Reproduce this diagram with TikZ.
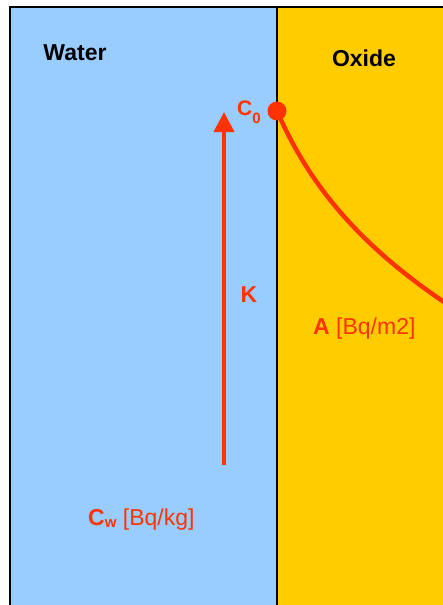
\documentclass[tikz,border=0pt]{standalone}
\usepackage{fontspec}
\setmainfont{Liberation Sans}
\definecolor{WaterBlue}{HTML}{99CCFF}
\definecolor{OxideGold}{HTML}{FFCC00}
\definecolor{ProfRed}{HTML}{FF3300}
\usetikzlibrary{arrows.meta, positioning}

\begin{document}
\begin{tikzpicture}[x=1pt, y=-1pt, >=Stealth,
    lbl/.style={font=\fontsize{23}{27}\selectfont, text=ProfRed, inner sep=0pt, anchor=base west}]
  \useasboundingbox (0,0) rectangle (443,605);
  \clip (0,0) rectangle (443,605);

  % Layers: water and oxide
  \fill[WaterBlue] (10,7) rectangle (277,610);
  \fill[OxideGold] (277,7) rectangle (450,610);
  \draw[line width=2pt] (10,610) -- (10,7) -- (450,7);
  \draw[line width=2pt] (277,7) -- (277,610);

  \node[font=\bfseries\fontsize{23}{27}\selectfont, inner sep=0pt, anchor=base]
    (water) at (75,60) {Water};
  \node[font=\bfseries\fontsize{23}{27}\selectfont, inner sep=0pt, anchor=base]
    (oxide) at (364,66) {Oxide};

  % Surface concentration and profile into the oxide
  \node[circle, fill=ProfRed, minimum size=19pt, inner sep=0pt] (surf) at (277,111) {};
  \node[lbl, font=\bfseries\fontsize{21}{25}\selectfont] (c0) at (237,115)
    {C\raisebox{-8pt}{\fontsize{15}{17}\selectfont 0}};
  \coordinate (deep) at (450,306);
  \draw[line width=4.5pt, ProfRed] (surf.center)
    .. controls (305,175) and (350,240) .. (deep);
  \node[lbl] (act) at (313,334) {\textbf{A} [Bq/m2]};

  % Transport from the water towards the surface
  \coordinate (kfoot) at (224,465);
  \coordinate (ktip) at (224,112);
  \draw[-{Triangle[width=20pt, length=20pt]}, line width=4pt, ProfRed] (kfoot) -- (ktip);
  \node[lbl, font=\bfseries\fontsize{23}{27}\selectfont, anchor=base] (k) at (249,302) {K};
  \node[lbl] (cw) at (88,525)
    {\textbf{C\raisebox{-2pt}{\fontsize{15}{17}\selectfont w}} [Bq/kg]};
\end{tikzpicture}
\end{document}
